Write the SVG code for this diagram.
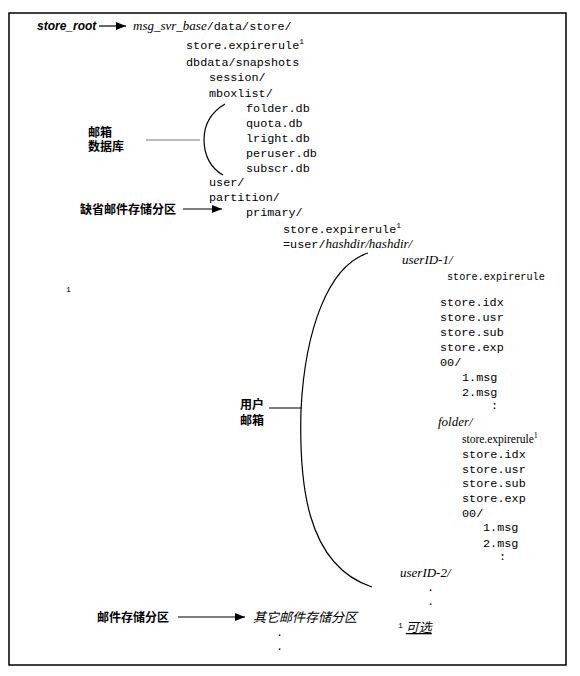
<svg xmlns="http://www.w3.org/2000/svg" width="580" height="676" viewBox="0 0 580 676">
<style>
.m{font-family:"Liberation Mono","DejaVu Sans Mono",monospace;font-size:11.8px;fill:#000}
.i{font-family:"Liberation Serif","Times New Roman",serif;font-style:italic;font-size:13px;fill:#000}
.b{font-family:"Liberation Sans","Noto Sans CJK SC",sans-serif;font-weight:bold;font-size:12px;fill:#000}
.ci{font-family:"Liberation Serif","Noto Sans CJK SC",serif;font-style:italic;font-size:13px;fill:#000}
.s{font-size:8px}
.ln{fill:none;stroke:#000;stroke-width:1.2}
</style>
<defs>
<marker id="ah" viewBox="0 0 10 8" refX="10" refY="4" markerWidth="10" markerHeight="8" markerUnits="userSpaceOnUse" orient="auto">
<path d="M0,0 L10,4 L0,8 Z" fill="#000"/>
</marker>
</defs>
<rect x="9" y="13" width="557" height="652" fill="#fff" stroke="#000" stroke-width="1.5"/>

<g id="connectors">
<line class="ln" x1="99" y1="26" x2="126" y2="26" marker-end="url(#ah)"/>
<line class="ln" x1="183" y1="209" x2="222" y2="209" marker-end="url(#ah)"/>
<line class="ln" x1="178" y1="617" x2="245" y2="617" marker-end="url(#ah)"/>
<line x1="146" y1="140" x2="200" y2="140" stroke="#777" stroke-width="1"/>
<path class="ln" d="M225,104 C208,114 204,128 204,140 C204,154 210,168 223,175"/>
<line class="ln" x1="269" y1="408" x2="302" y2="408"/>
<path class="ln" d="M368,253 C328,266 305,330 301,410 C299,480 305,565 372,587"/>
</g>

<g id="store_root"><text class="b" x="37" y="30" font-style="italic">store_root</text></g>
<g id="base"><text x="133" y="30"><tspan class="i">msg_svr_base</tspan><tspan class="m">/data/store/</tspan></text></g>
<g id="mailbox_db_label"><text class="b" x="88" y="137">邮箱</text><text class="b" x="88" y="151">数据库</text></g>
<g id="default_partition_label"><text class="b" x="80" y="214">缺省邮件存储分区</text></g>
<g id="user_mailbox_label"><text class="b" x="240" y="409">用户</text><text class="b" x="240" y="425">邮箱</text></g>
<g id="partition_label"><text class="b" x="97" y="622">邮件存储分区</text></g>
<g id="other_partitions"><text class="ci" x="253" y="622">其它邮件存储分区</text>
<text class="m" x="276" y="636">.</text><text class="m" x="276" y="650">.</text></g>

<g id="tree">
<text class="m" x="186" y="49">store.expirerule<tspan class="s" dy="-5">1</tspan></text>
<text class="m" x="186" y="66">dbdata/snapshots</text>
<text class="m" x="209" y="81">session/</text>
<text class="m" x="209" y="97">mboxlist/</text>
<text class="m" x="246" y="112">folder.db</text>
<text class="m" x="246" y="127">quota.db</text>
<text class="m" x="246" y="142">lright.db</text>
<text class="m" x="246" y="157">peruser.db</text>
<text class="m" x="246" y="172">subscr.db</text>
<text class="m" x="209" y="186">user/</text>
<text class="m" x="209" y="201">partition/</text>
<text class="m" x="246" y="216">primary/</text>
<text class="m" x="283" y="233">store.expirerule<tspan class="s" dy="-5">1</tspan></text>
<text x="283" y="248"><tspan class="m">=user/</tspan><tspan class="i">hashdir/hashdir/</tspan></text>
<text class="m s" x="66" y="292">1</text>
</g>

<g id="user1">
<text class="i" x="402" y="264">userID-1/</text>
<text class="m" x="447" y="280" style="font-size:10.2px">store.expirerule</text>
<text class="m" x="440" y="306">store.idx</text>
<text class="m" x="440" y="321">store.usr</text>
<text class="m" x="440" y="336">store.sub</text>
<text class="m" x="440" y="351">store.exp</text>
<text class="m" x="440" y="366">00/</text>
<text class="m" x="462" y="381">1.msg</text>
<text class="m" x="462" y="396">2.msg</text>
<text class="m" x="491" y="409">:</text>
<text class="i" x="438" y="426">folder/</text>
<text x="462" y="443" font-family="Liberation Serif,serif" font-size="11.5">store.expirerule<tspan class="s" dy="-5">1</tspan></text>
<text class="m" x="462" y="458">store.idx</text>
<text class="m" x="462" y="473">store.usr</text>
<text class="m" x="462" y="487">store.sub</text>
<text class="m" x="462" y="502">store.exp</text>
<text class="m" x="462" y="517">00/</text>
<text class="m" x="483" y="531">1.msg</text>
<text class="m" x="483" y="547">2.msg</text>
<text class="m" x="499" y="560">:</text>
</g>

<g id="user2">
<text class="i" x="400" y="577">userID-2/</text>
<text class="m" x="427" y="591">.</text>
<text class="m" x="427" y="605">.</text>
</g>

<g id="footnote">
<text x="398" y="632"><tspan class="m s" dy="-4">1</tspan><tspan class="ci" dy="4" dx="3" font-size="15" text-decoration="underline">可选</tspan></text>
</g>
</svg>
